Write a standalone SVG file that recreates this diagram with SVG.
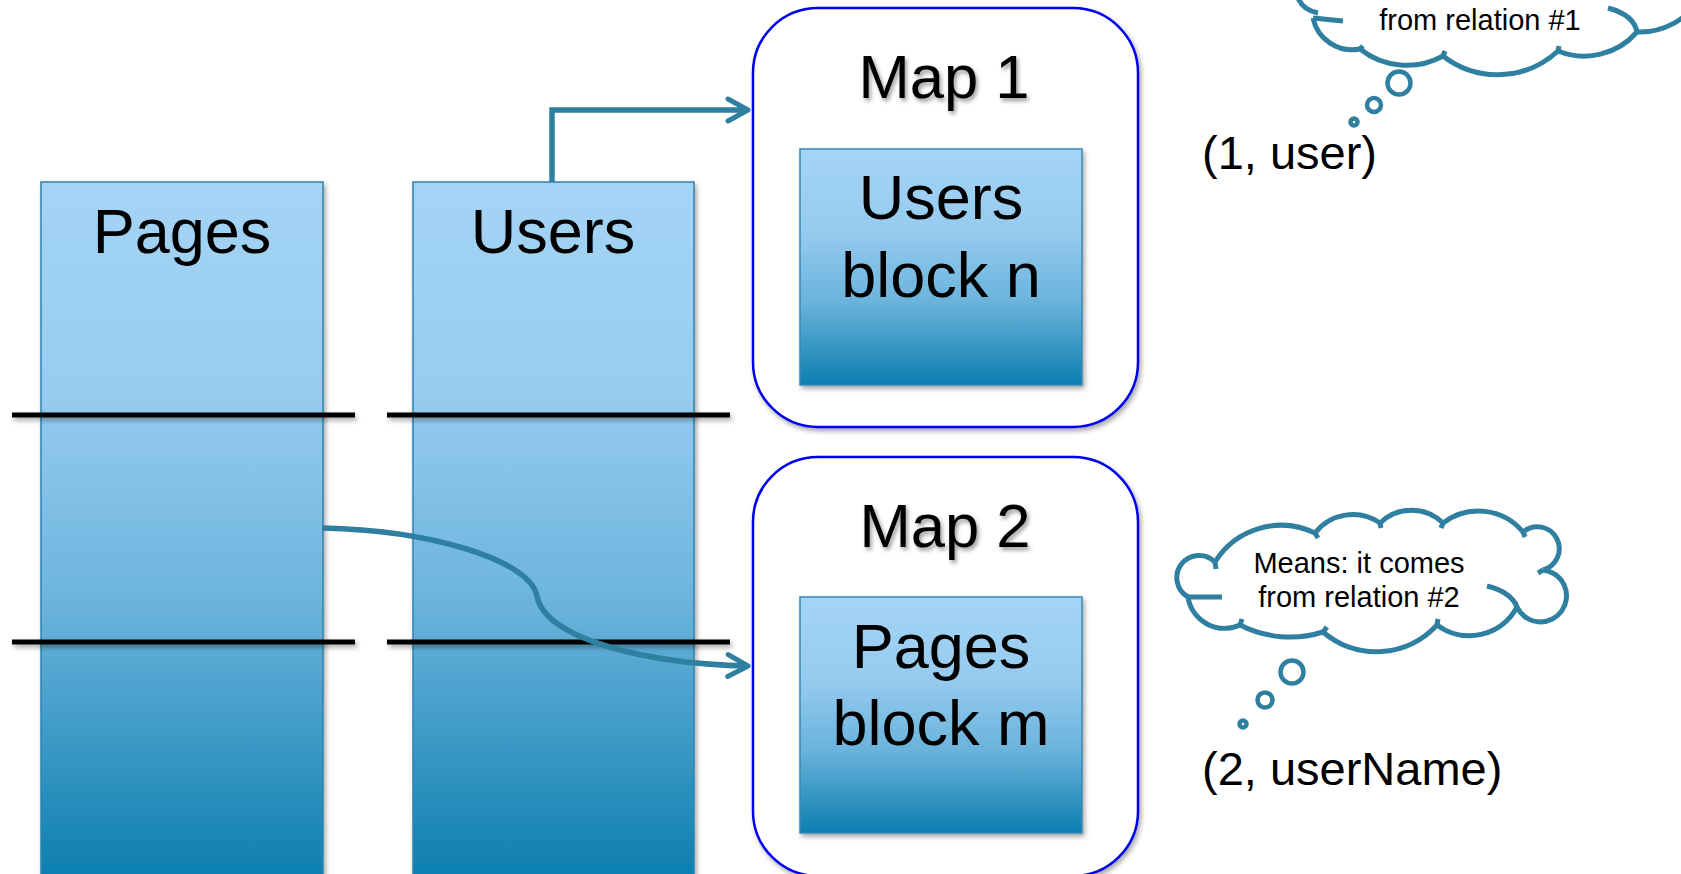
<svg xmlns="http://www.w3.org/2000/svg" width="1681" height="874" viewBox="0 0 1681 874">
<style>
text{font-family:"Liberation Sans",Arial,sans-serif;fill:#000}
.big{font-size:63px;text-anchor:middle}
.map{font-size:61.5px;text-anchor:middle}
.tup{font-size:47px}
.cl{font-size:29px;text-anchor:middle}
.col{stroke:#2E83AE;stroke-width:1.5}
.blk{stroke:#3A87B0;stroke-width:1.5}
.sep{stroke:#000;stroke-width:5}
.mapbox{fill:#fff;stroke:#0000F0;stroke-width:2.5}
.conn{fill:none;stroke:#2F7FA0;stroke-width:5.5}
.cloud{fill:none;stroke:#2F7FA0;stroke-width:5;stroke-linecap:butt}
.bub{fill:none;stroke:#2F7FA0;stroke-width:4.5}
</style>
<defs>
<linearGradient id="gcol" x1="0" y1="182" x2="0" y2="880" gradientUnits="userSpaceOnUse">
<stop offset="0" stop-color="#A4D4F5"/>
<stop offset="0.3" stop-color="#97CCF0"/>
<stop offset="0.6" stop-color="#6CB4DC"/>
<stop offset="1" stop-color="#0C7EB0"/>
</linearGradient>
<linearGradient id="gblk" x1="0" y1="0" x2="0" y2="1">
<stop offset="0" stop-color="#A4D4F5"/>
<stop offset="0.35" stop-color="#96CBEF"/>
<stop offset="0.65" stop-color="#6AB3DB"/>
<stop offset="1" stop-color="#0D7EB0"/>
</linearGradient>
<filter id="sh" x="-10%" y="-10%" width="130%" height="130%">
<feDropShadow dx="2" dy="3" stdDeviation="2.5" flood-color="#000" flood-opacity="0.35"/>
</filter>
<filter id="tsh" x="-10%" y="-10%" width="130%" height="140%">
<feDropShadow dx="2" dy="3" stdDeviation="2" flood-color="#000" flood-opacity="0.4"/>
</filter>
<marker id="arr" markerUnits="userSpaceOnUse" markerWidth="32" markerHeight="32" viewBox="0 0 32 32" refX="24" refY="16" orient="auto">
<path d="M 4 5 L 24 16 L 4 27" fill="none" stroke="#2F7FA0" stroke-width="5" stroke-linecap="round" stroke-linejoin="round"/>
</marker>
</defs>
<rect width="1681" height="874" fill="#fff"/>

<g id="pages-col">
<rect class="col" x="41" y="182" width="282" height="700" fill="url(#gcol)" filter="url(#sh)"/>
<text class="big" x="182" y="253">Pages</text>
</g>
<g id="users-col">
<rect class="col" x="413" y="182" width="281" height="700" fill="url(#gcol)" filter="url(#sh)"/>
<text class="big" x="553" y="253">Users</text>
</g>

<g id="separators" filter="url(#sh)">
<line class="sep" x1="12" y1="415" x2="355" y2="415"/>
<line class="sep" x1="387" y1="415" x2="730" y2="415"/>
<line class="sep" x1="12" y1="642" x2="355" y2="642"/>
<line class="sep" x1="387" y1="642" x2="730" y2="642"/>
</g>

<g id="map1">
<rect class="mapbox" x="753" y="8" width="385" height="419" rx="65" ry="65" filter="url(#sh)"/>
<text class="map" x="944" y="98" filter="url(#tsh)">Map 1</text>
<rect class="blk" x="800" y="149" width="282" height="236" fill="url(#gblk)" filter="url(#sh)"/>
<text class="big" x="941" y="219">Users</text>
<text class="big" x="941" y="297">block n</text>
</g>

<g id="map2">
<rect class="mapbox" x="753" y="457" width="385" height="419" rx="65" ry="65" filter="url(#sh)"/>
<text class="map" x="945" y="547" filter="url(#tsh)">Map 2</text>
<rect class="blk" x="800" y="597" width="282" height="236" fill="url(#gblk)" filter="url(#sh)"/>
<text class="big" x="941" y="668">Pages</text>
<text class="big" x="941" y="745">block m</text>
</g>

<g id="connectors">
<path class="conn" d="M 552 182 V 110 H 748" marker-end="url(#arr)"/>
<path class="conn" d="M 322 528 C 430 530, 530 560, 537 596 C 545 640, 650 664, 748 666" marker-end="url(#arr)"/>
</g>

<g id="cloud1">
<path class="cloud" d="M 1298 -2 Q 1303 10 1318 13"/>
<path class="cloud" d="M 1313 18 L 1343 21"/>
<path class="cloud" d="M 1313 18 A 40 40 0 0 0 1360 49 A 75 75 0 0 0 1443 56 A 89 89 0 0 0 1558 51 A 70 70 0 0 0 1637 32 A 70 70 0 0 0 1700 -2"/>
<path class="cloud" d="M 1360 49 L 1363 46 M 1443 56 L 1445 51 M 1558 51 L 1559 46"/>
<path class="cloud" d="M 1608 8 Q 1634 15 1637 32"/>
<text class="cl" x="1480" y="30">from relation #1</text>
<circle class="bub" cx="1399" cy="83" r="11.5"/>
<circle class="bub" cx="1374" cy="105" r="7"/>
<circle class="bub" cx="1354" cy="122" r="3.5"/>
</g>

<g id="tuple1">
<text class="tup" x="1202" y="169">(1, user)</text>
</g>

<g id="cloud2">
<path class="cloud" d="M 1215 562 A 22.3 22.3 0 1 0 1188 597 A 37 37 0 0 0 1240 625 A 110 110 0 0 0 1323 632 A 82 82 0 0 0 1437 625 A 54 54 0 0 0 1517 607 A 26 26 0 1 0 1543 570 A 22 22 0 1 0 1523 532 A 58 58 0 0 0 1443 523 A 45 45 0 0 0 1380 523 A 48 48 0 0 0 1315 533 A 78 78 0 0 0 1215 562 Z"/>
<path class="cloud" d="M 1188 597 L 1222 597 M 1215 562 L 1216 569 M 1240 625 L 1242 619 M 1323 632 L 1327 627 M 1437 625 L 1438 619 M 1543 570 L 1538 573 M 1523 532 L 1525 537 M 1443 523 L 1441 528 M 1380 523 L 1381 528 M 1315 533 L 1318 538"/>
<path class="cloud" d="M 1487 586 Q 1511 592 1517 607"/>
<text class="cl" x="1359" y="573">Means: it comes</text>
<text class="cl" x="1359" y="607">from relation #2</text>
<circle class="bub" cx="1292" cy="672" r="11.5"/>
<circle class="bub" cx="1265" cy="700" r="7.5"/>
<circle class="bub" cx="1243" cy="724" r="3.5"/>
</g>

<g id="tuple2">
<text class="tup" x="1202" y="785">(2, userName)</text>
</g>
</svg>
